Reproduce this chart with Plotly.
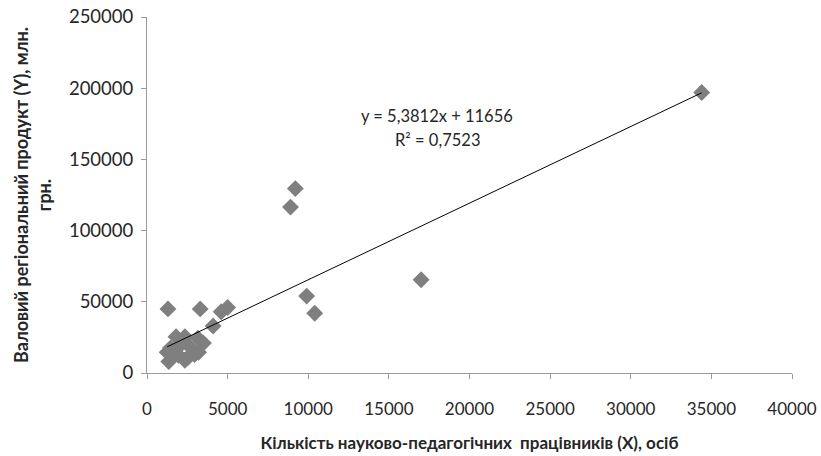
import plotly.graph_objects as go

# Кількість науково-педагогічних працівників (X), осіб
x_staff = [34400, 9200, 8900, 17000, 9900, 10400, 5000, 4600, 3300, 1300, 4100,
           1800, 2350, 3150, 3500, 1450, 2050, 2650, 1250, 1950, 2550, 3200,
           1350, 2350, 1550, 2950]
# Валовий регіональний продукт (Y), млн. грн.
y_grp = [197000, 129500, 116500, 65500, 54000, 42000, 46000, 43000, 45000, 45000, 33000,
         25500, 25500, 24500, 21000, 17500, 19500, 18500, 14500, 12500, 11000, 14500,
         8000, 9000, 16000, 13000]

slope = 5.3812
intercept = 11656
eq_text = "y = 5,3812x + 11656"
r2_text = "R² = 0,7523"

x_ticks = [0, 5000, 10000, 15000, 20000, 25000, 30000, 35000, 40000]
y_ticks = [0, 50000, 100000, 150000, 200000, 250000]

x_line = [min(x_staff), max(x_staff)]
y_line = [slope * v + intercept for v in x_line]

font_family = "Lato, 'Open Sans', sans-serif"
axis_color = "#9a9a9a"
text_color = "#262626"

fig = go.Figure()
fig.add_trace(go.Scatter(
    x=x_staff, y=y_grp, mode="markers",
    marker=dict(symbol="diamond", size=13, color="#7f7f7f", line=dict(width=0)),
    showlegend=False, hoverinfo="skip"))
fig.add_trace(go.Scatter(
    x=x_line, y=y_line, mode="lines",
    line=dict(color="#000000", width=1),
    showlegend=False, hoverinfo="skip"))

fig.add_annotation(x=18000, y=180500, text=eq_text, showarrow=False,
                   font=dict(family=font_family, size=16.5, color=text_color))
fig.add_annotation(x=18000, y=163600, text=r2_text, showarrow=False,
                   font=dict(family=font_family, size=16.5, color=text_color))

fig.update_layout(
    width=821, height=456,
    margin=dict(l=147, r=29, t=17, b=83, autoexpand=False),
    paper_bgcolor="white", plot_bgcolor="white",
    font=dict(family=font_family, color=text_color),
    xaxis=dict(
        range=[0, 40000], tickvals=x_ticks, ticktext=[str(v) for v in x_ticks],
        showgrid=False, zeroline=False, showline=True, linecolor=axis_color, linewidth=1,
        ticks="outside", ticklen=5, tickcolor=axis_color, automargin=False,
        ticklabelstandoff=16, ticklabeloverflow="allow",
        tickfont=dict(family=font_family, size=17, color=text_color),
        title=dict(text="<b>Кількість науково-педагогічних  працівників (X), осіб</b>",
                   font=dict(family=font_family, size=17, color=text_color), standoff=18),
    ),
    yaxis=dict(
        range=[0, 250000], tickvals=y_ticks, ticktext=[str(v) for v in y_ticks],
        showgrid=False, zeroline=False, showline=True, linecolor=axis_color, linewidth=1,
        ticks="outside", ticklen=5, tickcolor=axis_color, automargin=False,
        ticklabelstandoff=4, ticklabeloverflow="allow",
        tickfont=dict(family=font_family, size=18.5, color=text_color),
        title=dict(text="<b>Валовий регіональний продукт (Y), млн.<br>грн.</b>",
                   font=dict(family=font_family, size=18, color=text_color), standoff=12),
    ),
)

fig.write_html("out.html", config={"displayModeBar": False},
               post_script="document.body.style.margin='0';")
